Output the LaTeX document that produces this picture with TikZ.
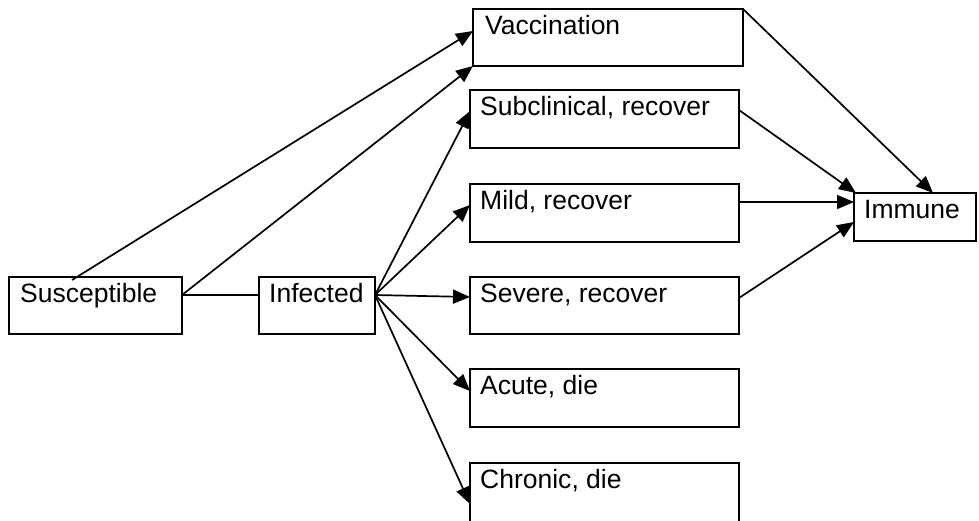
\documentclass[tikz,border=0pt]{standalone}
\usepackage{fontspec}
\setmainfont{Liberation Sans}
\usetikzlibrary{arrows.meta,calc}
\begin{document}
\begin{tikzpicture}[x=1pt,y=-1pt,
 box/.style={draw,line width=1.8pt,inner sep=0pt,outer sep=0pt,anchor=north west,minimum height=57pt},
 lbl/.style={anchor=base west,inner sep=0pt,font=\fontsize{26.5}{30}\selectfont},
 conn/.style={line width=1.7pt},
 arr/.style={conn,-{Triangle[length=17pt,width=14pt]}}]
\useasboundingbox (0,0) rectangle (979,520);
% boxes
\node[box,minimum width=173pt] (sus) at (9,277) {};
\node[box,minimum width=116pt] (inf) at (259,277) {};
\node[box,minimum width=270pt] (vac) at (473,9) {};
\node[box,minimum width=269pt,minimum height=58pt] (sub) at (470,90) {};
\node[box,minimum width=269pt,minimum height=58pt] (mild) at (470,184) {};
\node[box,minimum width=269pt] (sev) at (470,277) {};
\node[box,minimum width=269pt,minimum height=58pt] (acu) at (470,369) {};
\node[box,minimum width=269pt,minimum height=62pt] (chr) at (470,463) {};
\node[box,minimum width=122pt,minimum height=48pt] (imm) at (854,193) {};
% labels
\node[lbl] (tsus) at ($(sus.north west)+(11,25)$) {Susceptible};
\node[lbl] (tinf) at ($(inf.north west)+(10,25)$) {Infected};
\node[lbl] (tvac) at ($(vac.north west)+(12,25)$) {Vaccination};
\node[lbl] (tsub) at ($(sub.north west)+(10,25)$) {Subclinical, recover};
\node[lbl] (tmild) at ($(mild.north west)+(10,25)$) {Mild, recover};
\node[lbl] (tsev) at ($(sev.north west)+(10,25)$) {Severe, recover};
\node[lbl] (tacu) at ($(acu.north west)+(10,25)$) {Acute, die};
\node[lbl] (tchr) at ($(chr.north west)+(10,25)$) {Chronic, die};
\node[lbl] (timm) at ($(imm.north west)+(10,25)$) {Immune};
% connection points
\coordinate (susTop) at ($(sus.north west)+(63,3)$);
\coordinate (susR) at ($(sus.north east)+(0,18)$);
\coordinate (infL) at ($(inf.north west)+(0,18)$);
\coordinate (infR) at ($(inf.north east)+(0,18)$);
\coordinate (vacL) at ($(vac.north west)+(0,22)$);
\coordinate (subL) at ($(sub.north west)+(0,21)$);
\coordinate (subR) at ($(sub.north east)+(0,20)$);
\coordinate (mildL) at ($(mild.north west)+(0,21)$);
\coordinate (mildR) at ($(mild.north east)+(0,18)$);
\coordinate (sevL) at ($(sev.north west)+(0,20)$);
\coordinate (sevR) at ($(sev.north east)+(0,21)$);
\coordinate (acuL) at ($(acu.north west)+(0,22)$);
\coordinate (chrL) at ($(chr.north west)+(0,41)$);
\coordinate (immT) at ($(imm.north west)+(79,0)$);
\coordinate (immTL) at ($(imm.north west)+(2,0)$);
\coordinate (immL1) at ($(imm.north west)+(0,9)$);
\coordinate (immL2) at ($(imm.north west)+(0,29)$);
% connectors
\draw[arr] (susTop) -- (vacL);
\draw[arr] (susR) -- (vac.south west);
\draw[conn] (susR) -- (infL);
\draw[arr] (infR) -- (subL);
\draw[arr] (infR) -- (mildL);
\draw[arr] (infR) -- (sevL);
\draw[arr] (infR) -- (acuL);
\draw[arr] (infR) -- (chrL);
\draw[arr] (vac.north east) -- (immT);
\draw[arr] (subR) -- (immTL);
\draw[arr] (mildR) -- (immL1);
\draw[arr] (sevR) -- (immL2);
\end{tikzpicture}
\end{document}
